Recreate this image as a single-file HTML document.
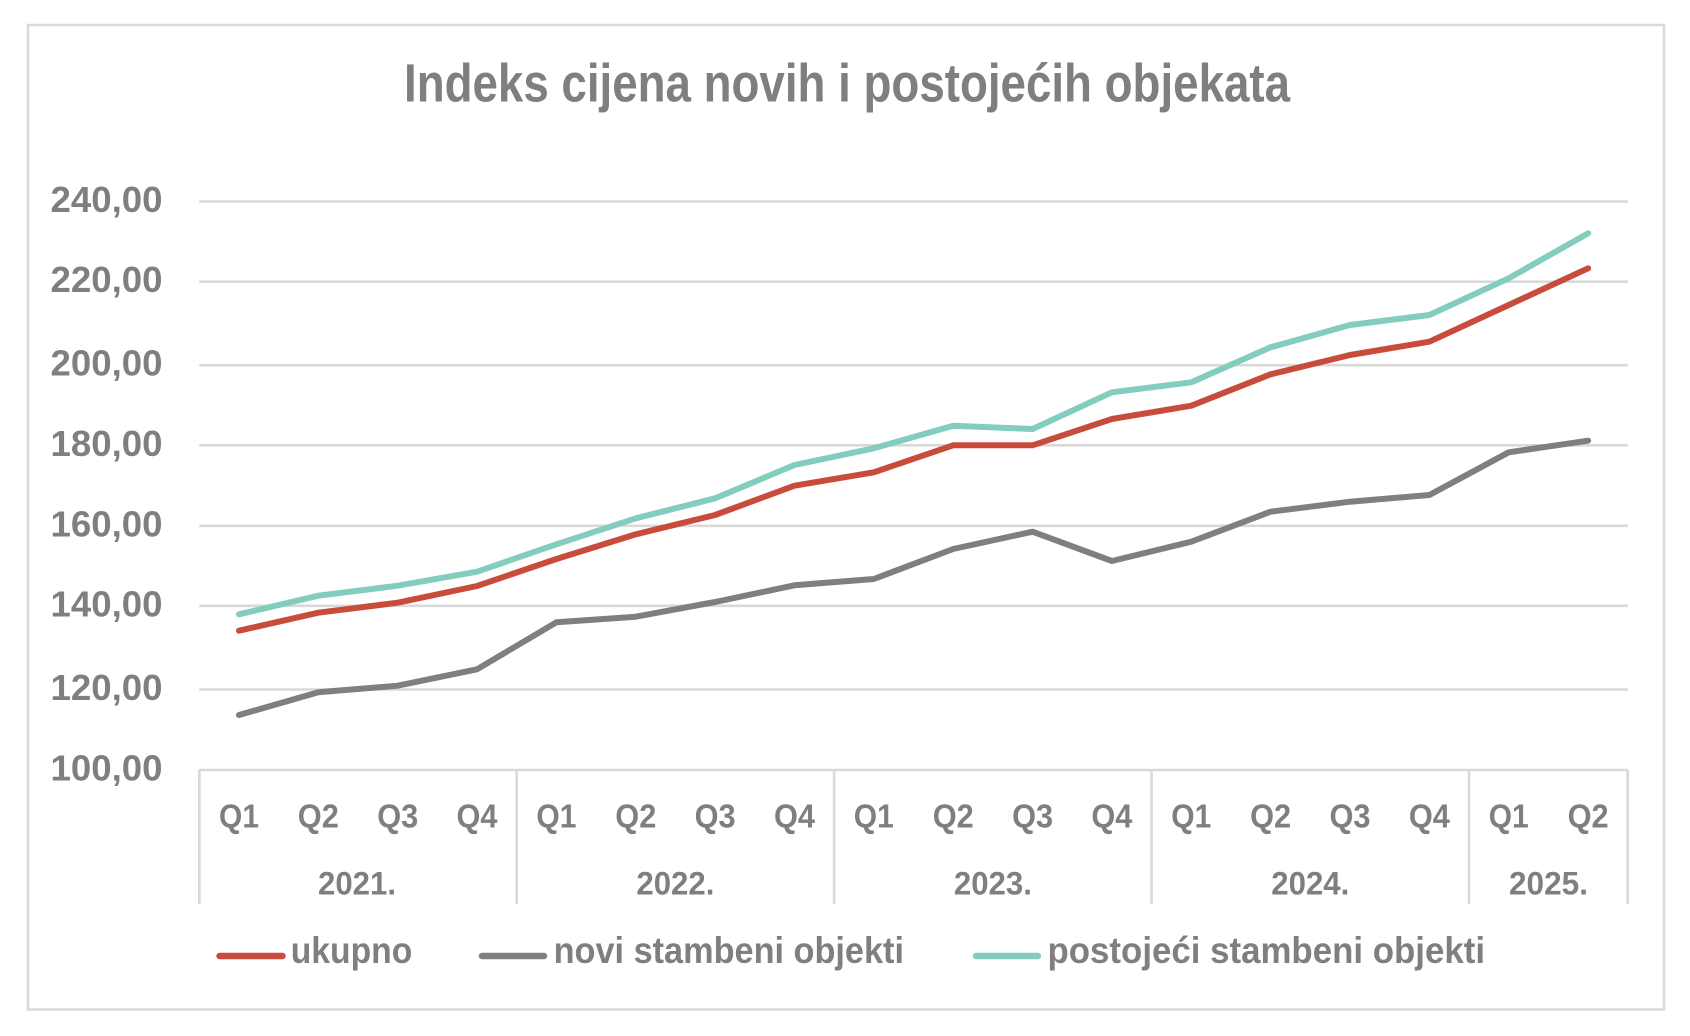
<!DOCTYPE html>
<html>
<head>
<meta charset="utf-8">
<style>
  html, body { margin: 0; padding: 0; background: #ffffff; }
  body { width: 1690px; height: 1036px; overflow: hidden; }
  svg { display: block; }
  text { font-family: "Liberation Sans", Arial, sans-serif; font-weight: bold; fill: #7f7f7f; }
</style>
</head>
<body>
<svg width="1690" height="1036" viewBox="0 0 1690 1036" xmlns="http://www.w3.org/2000/svg">
  <rect x="0" y="0" width="1690" height="1036" fill="#ffffff"/>
  <!-- outer border -->
  <rect x="28" y="25" width="1636" height="984.5" fill="none" stroke="#d9d9d9" stroke-width="2.5"/>

  <!-- title -->
  <text x="404" y="101.7" font-size="54" textLength="886" lengthAdjust="spacingAndGlyphs">Indeks cijena novih i postojećih objekata</text>

  <!-- gridlines -->
  <g stroke="#d9d9d9" stroke-width="2.6">
    <line x1="199.3" y1="201.5" x2="1627.7" y2="201.5"/>
    <line x1="199.3" y1="281.7" x2="1627.7" y2="281.7"/>
    <line x1="199.3" y1="365.2" x2="1627.7" y2="365.2"/>
    <line x1="199.3" y1="445.3" x2="1627.7" y2="445.3"/>
    <line x1="199.3" y1="525.8" x2="1627.7" y2="525.8"/>
    <line x1="199.3" y1="605.8" x2="1627.7" y2="605.8"/>
    <line x1="199.3" y1="689.5" x2="1627.7" y2="689.5"/>
    <line x1="199.3" y1="770" x2="1627.7" y2="770"/>
    <!-- category group separators -->
    <line x1="199.3" y1="770" x2="199.3" y2="904"/>
    <line x1="516.7" y1="770" x2="516.7" y2="904"/>
    <line x1="834.1" y1="770" x2="834.1" y2="904"/>
    <line x1="1151.6" y1="770" x2="1151.6" y2="904"/>
    <line x1="1469.0" y1="770" x2="1469.0" y2="904"/>
    <line x1="1627.7" y1="770" x2="1627.7" y2="904"/>
  </g>

  <!-- y axis labels -->
  <g font-size="36" text-anchor="end">
    <text x="162.5" y="212" textLength="112" lengthAdjust="spacingAndGlyphs">240,00</text>
    <text x="162.5" y="292.2" textLength="112" lengthAdjust="spacingAndGlyphs">220,00</text>
    <text x="162.5" y="375.7" textLength="112" lengthAdjust="spacingAndGlyphs">200,00</text>
    <text x="162.5" y="455.8" textLength="112" lengthAdjust="spacingAndGlyphs">180,00</text>
    <text x="162.5" y="536.3" textLength="112" lengthAdjust="spacingAndGlyphs">160,00</text>
    <text x="162.5" y="616.3" textLength="112" lengthAdjust="spacingAndGlyphs">140,00</text>
    <text x="162.5" y="700" textLength="112" lengthAdjust="spacingAndGlyphs">120,00</text>
    <text x="162.5" y="780.5" textLength="112" lengthAdjust="spacingAndGlyphs">100,00</text>
  </g>

  <!-- quarter labels -->
  <g font-size="33" text-anchor="middle">
    <text x="239.0" y="827.3" textLength="40" lengthAdjust="spacingAndGlyphs">Q1</text>
    <text x="318.3" y="827.3" textLength="41" lengthAdjust="spacingAndGlyphs">Q2</text>
    <text x="397.7" y="827.3" textLength="41" lengthAdjust="spacingAndGlyphs">Q3</text>
    <text x="477.0" y="827.3" textLength="41" lengthAdjust="spacingAndGlyphs">Q4</text>
    <text x="556.4" y="827.3" textLength="40" lengthAdjust="spacingAndGlyphs">Q1</text>
    <text x="635.8" y="827.3" textLength="41" lengthAdjust="spacingAndGlyphs">Q2</text>
    <text x="715.1" y="827.3" textLength="41" lengthAdjust="spacingAndGlyphs">Q3</text>
    <text x="794.5" y="827.3" textLength="41" lengthAdjust="spacingAndGlyphs">Q4</text>
    <text x="873.8" y="827.3" textLength="40" lengthAdjust="spacingAndGlyphs">Q1</text>
    <text x="953.2" y="827.3" textLength="41" lengthAdjust="spacingAndGlyphs">Q2</text>
    <text x="1032.6" y="827.3" textLength="41" lengthAdjust="spacingAndGlyphs">Q3</text>
    <text x="1111.9" y="827.3" textLength="41" lengthAdjust="spacingAndGlyphs">Q4</text>
    <text x="1191.3" y="827.3" textLength="40" lengthAdjust="spacingAndGlyphs">Q1</text>
    <text x="1270.6" y="827.3" textLength="41" lengthAdjust="spacingAndGlyphs">Q2</text>
    <text x="1350.0" y="827.3" textLength="41" lengthAdjust="spacingAndGlyphs">Q3</text>
    <text x="1429.4" y="827.3" textLength="41" lengthAdjust="spacingAndGlyphs">Q4</text>
    <text x="1508.7" y="827.3" textLength="40" lengthAdjust="spacingAndGlyphs">Q1</text>
    <text x="1588.1" y="827.3" textLength="41" lengthAdjust="spacingAndGlyphs">Q2</text>
  </g>

  <!-- year labels -->
  <g font-size="32" text-anchor="middle">
    <text x="357.0" y="894.3" textLength="78" lengthAdjust="spacingAndGlyphs">2021.</text>
    <text x="675.4" y="894.3" textLength="78" lengthAdjust="spacingAndGlyphs">2022.</text>
    <text x="992.9" y="894.3" textLength="78" lengthAdjust="spacingAndGlyphs">2023.</text>
    <text x="1310.3" y="894.3" textLength="78" lengthAdjust="spacingAndGlyphs">2024.</text>
    <text x="1548.5" y="894.3" textLength="79" lengthAdjust="spacingAndGlyphs">2025.</text>
  </g>

  <!-- series -->
  <g fill="none" stroke-width="6" stroke-linejoin="round" stroke-linecap="round">
    <polyline stroke="#7f7f7f" points="239.0,715 318.3,692.3 397.7,685.7 477.0,669.3 556.4,622.3 635.8,616.7 715.1,602 794.5,585.3 873.8,579 953.2,549 1032.6,531.7 1111.9,561 1191.3,541.7 1270.6,511.7 1350.0,501.7 1429.4,495 1508.7,452.3 1588.1,440.7"/>
    <polyline stroke="#c84c3c" points="239.0,630.7 318.3,612.7 397.7,602.7 477.0,586 556.4,559 635.8,534.3 715.1,515 794.5,485.7 873.8,472.3 953.2,445.3 1032.6,445.3 1111.9,419 1191.3,405.7 1270.6,374.3 1350.0,355 1429.4,341.7 1508.7,305 1588.1,268.3"/>
    <polyline stroke="#82cdbd" points="239.0,614.3 318.3,595.7 397.7,585.7 477.0,571.7 556.4,544.3 635.8,518.3 715.1,498.3 794.5,465 873.8,448.3 953.2,425.7 1032.6,429 1111.9,392.3 1191.3,382.3 1270.6,347.3 1350.0,325 1429.4,315 1508.7,278.3 1588.1,233.3"/>
  </g>

  <!-- legend -->
  <g stroke-width="6.5" stroke-linecap="round">
    <line x1="219.5" y1="956" x2="282.5" y2="956" stroke="#c84c3c"/>
    <line x1="482" y1="956" x2="544" y2="956" stroke="#7f7f7f"/>
    <line x1="976" y1="956" x2="1038" y2="956" stroke="#82cdbd"/>
  </g>
  <g font-size="37">
    <text x="290.7" y="963" textLength="121.6" lengthAdjust="spacingAndGlyphs">ukupno</text>
    <text x="553.6" y="963" textLength="350.4" lengthAdjust="spacingAndGlyphs">novi stambeni objekti</text>
    <text x="1047.5" y="963" textLength="437.5" lengthAdjust="spacingAndGlyphs">postojeći stambeni objekti</text>
  </g>
</svg>
</body>
</html>
